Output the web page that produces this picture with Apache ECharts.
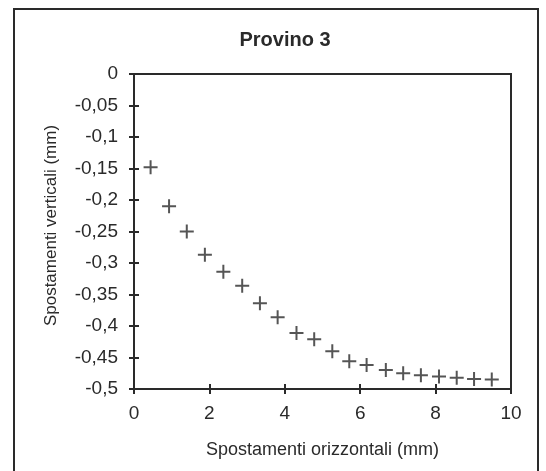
<!DOCTYPE html>
<html>
<head>
<meta charset="utf-8">
<style>
html,body{margin:0;padding:0;background:#fff;}
#c{width:546px;height:471px;}
</style>
<script src="https://cdn.jsdelivr.net/npm/echarts@6/dist/echarts.min.js"></script>
</head>
<body>
<div id="c"></div>
<script>
var titleText = 'Provino 3';
var xAxisName = 'Spostamenti orizzontali (mm)';
var yAxisName = 'Spostamenti verticali (mm)';
var xValues = [0.44, 0.93, 1.40, 1.88, 2.37, 2.87, 3.34, 3.81, 4.31, 4.78, 5.26, 5.71, 6.17, 6.68, 7.14, 7.61, 8.09, 8.56, 9.02, 9.49];
var yValues = [-0.148, -0.210, -0.250, -0.287, -0.314, -0.336, -0.364, -0.386, -0.411, -0.421, -0.440, -0.456, -0.462, -0.470, -0.475, -0.478, -0.480, -0.482, -0.484, -0.485];

var points = xValues.map(function (x, i) { return [x, yValues[i]]; });
var fmtY = function (v) { return String(+(+v).toFixed(2)).replace('.', ','); };
var font = 'Liberation Sans, Arial, sans-serif';
var ink = '#2a2a2a';
var gridBox = {left: 134, top: 74, width: 377, height: 315};

var chart = echarts.init(document.getElementById('c'), null, {renderer: 'canvas'});
chart.setOption({
  animation: false,
  backgroundColor: '#fff',
  title: {
    text: titleText, left: 280, top: 25, textAlign: 'center',
    textStyle: {fontFamily: font, fontSize: 20, fontWeight: 'bold', color: ink}
  },
  graphic: [{
    type: 'rect', shape: {x: 14, y: 9, width: 524, height: 470},
    style: {fill: 'none', stroke: ink, lineWidth: 2}, silent: true
  }],
  grid: [
    Object.assign({show: true, borderColor: ink, borderWidth: 2, backgroundColor: 'transparent'}, gridBox),
    Object.assign({show: false}, gridBox)
  ],
  xAxis: [{
    gridIndex: 0, type: 'value', min: 0, max: 10, interval: 2, position: 'bottom',
    name: xAxisName, nameLocation: 'middle', nameGap: 52,
    nameTextStyle: {fontFamily: font, fontSize: 18, color: ink},
    axisLine: {show: true, onZero: false, lineStyle: {color: ink, width: 2}},
    axisTick: {show: true, length: 5, lineStyle: {color: ink, width: 2}},
    axisLabel: {fontFamily: font, fontSize: 19, color: ink, margin: 15},
    splitLine: {show: false}
  }, {
    gridIndex: 1, type: 'value', min: 0, max: 10, interval: 2, position: 'bottom',
    axisLine: {show: false, onZero: false},
    axisTick: {show: true, inside: true, length: 5, lineStyle: {color: ink, width: 2}},
    axisLabel: {show: false}, splitLine: {show: false}
  }],
  yAxis: [{
    gridIndex: 0, type: 'value', min: -0.5, max: 0, interval: 0.05, position: 'left',
    name: yAxisName, nameLocation: 'middle', nameGap: 74, nameRotate: 90,
    nameTextStyle: {fontFamily: font, fontSize: 17, color: ink, padding: [0, 0, 0, 12]},
    axisLine: {show: true, onZero: false, lineStyle: {color: ink, width: 2}},
    axisTick: {show: true, length: 5, lineStyle: {color: ink, width: 2}},
    axisLabel: {fontFamily: font, fontSize: 19, color: ink, margin: 16, formatter: fmtY},
    splitLine: {show: false}
  }, {
    gridIndex: 1, type: 'value', min: -0.5, max: 0, interval: 0.05, position: 'left',
    axisLine: {show: false, onZero: false},
    axisTick: {show: true, inside: true, length: 5, lineStyle: {color: ink, width: 2}},
    axisLabel: {show: false}, splitLine: {show: false}
  }],
  series: [{
    type: 'scatter', xAxisIndex: 0, yAxisIndex: 0,
    data: points,
    symbol: 'path://M6,0H8V6H14V8H8V14H6V8H0V6H6Z',
    symbolSize: 14,
    itemStyle: {color: ink}
  }]
});
</script>
</body>
</html>
